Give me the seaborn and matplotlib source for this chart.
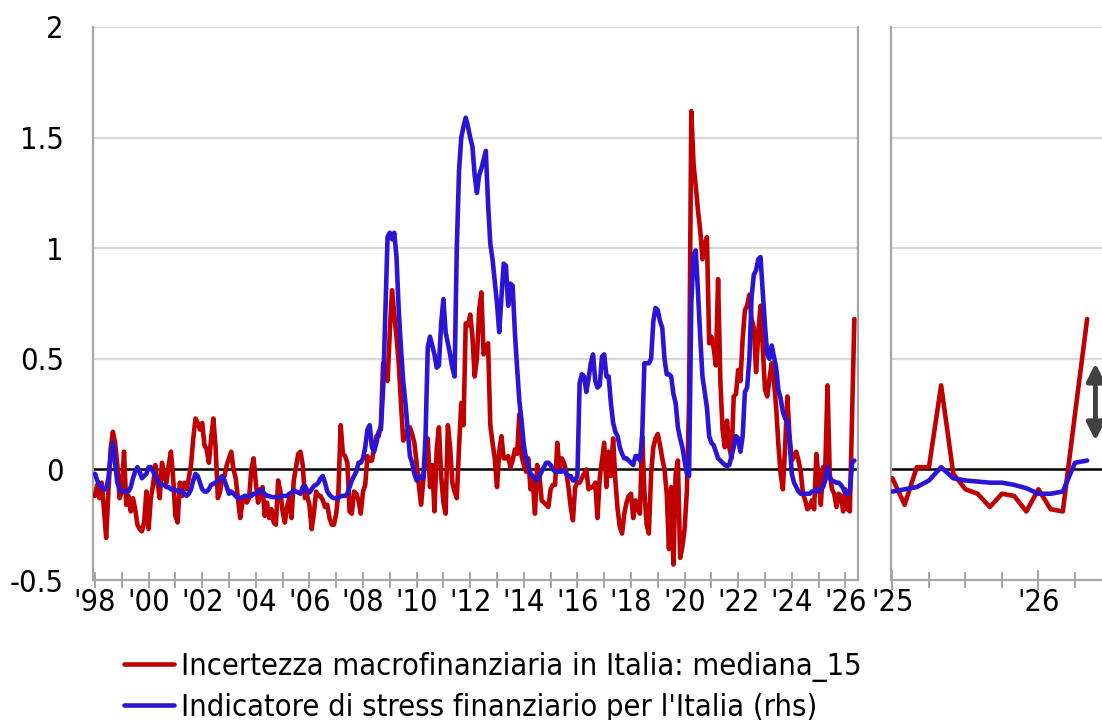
import numpy as np
import pandas as pd
import matplotlib
matplotlib.use("Agg")
import matplotlib.pyplot as plt
import seaborn as sns
from matplotlib.lines import Line2D
from matplotlib import font_manager

# ---------------- data (monthly, Jan 1998 - May 2026) ----------------
red = [
    -0.12, -0.07, -0.13, -0.06, -0.18, -0.31, -0.10, 0.09, 0.17, 0.12, 0.02, -0.13,   # 1998
    -0.10, 0.08, -0.16, -0.12, -0.19, -0.13, -0.18, -0.25, -0.27, -0.28, -0.24, -0.10,  # 1999
    -0.27, -0.13, -0.07, 0.02, -0.06, -0.13, 0.03, -0.03, -0.06, 0.02, 0.08, -0.04,     # 2000
    -0.21, -0.24, -0.06, -0.12, -0.06, -0.09, -0.04, 0.02, 0.14, 0.23, 0.21, 0.18,      # 2001
    0.21, 0.11, 0.09, 0.03, 0.14, 0.23, 0.10, -0.13, -0.10, -0.04, -0.03, 0.02,         # 2002
    0.05, 0.08, 0.00, -0.04, -0.13, -0.22, -0.15, -0.12, -0.15, -0.13, 0.00, 0.05,      # 2003
    -0.06, -0.15, -0.12, -0.08, -0.21, -0.15, -0.22, -0.18, -0.24, -0.25, -0.05, -0.10, # 2004
    -0.19, -0.24, -0.17, -0.13, -0.22, -0.05, 0.01, 0.07, 0.08, 0.02, -0.13, -0.12,     # 2005
    -0.16, -0.27, -0.20, -0.10, -0.12, -0.12, -0.14, -0.17, -0.16, -0.22, -0.25, -0.25, # 2006
    -0.20, -0.10, 0.20, 0.07, 0.06, 0.03, -0.19, -0.20, -0.10, -0.11, -0.14, -0.20,     # 2007
    -0.10, -0.07, 0.06, 0.04, 0.04, 0.10, 0.15, 0.15, 0.20, 0.48, 0.46, 0.40,           # 2008
    0.62, 0.81, 0.70, 0.60, 0.48, 0.30, 0.13, 0.15, 0.18, 0.19, 0.16, 0.12,             # 2009
    0.03, -0.07, -0.16, -0.05, 0.07, 0.14, -0.08, 0.02, -0.19, 0.09, 0.19, -0.03,       # 2010
    -0.15, -0.20, 0.20, 0.10, -0.06, -0.10, -0.13, 0.10, 0.30, 0.20, 0.66, 0.65,        # 2011
    0.70, 0.60, 0.42, 0.50, 0.72, 0.80, 0.52, 0.55, 0.57, 0.20, 0.12, 0.05,             # 2012
    -0.08, 0.08, 0.15, 0.05, 0.05, 0.06, 0.01, 0.04, 0.09, 0.07, 0.25, 0.06,            # 2013
    0.02, -0.01, 0.05, -0.09, -0.05, -0.20, 0.02, -0.03, -0.14, -0.15, -0.16, -0.17,    # 2014
    -0.09, -0.07, -0.07, 0.12, 0.00, 0.05, 0.03, -0.01, -0.08, -0.17, -0.23, -0.08,     # 2015
    -0.06, -0.06, -0.04, -0.02, 0.00, -0.09, -0.08, -0.08, -0.06, -0.22, -0.04, 0.04,   # 2016
    0.12, -0.08, 0.08, -0.03, 0.14, -0.05, -0.18, -0.26, -0.29, -0.20, -0.15, -0.12,    # 2017
    -0.11, -0.22, -0.14, -0.18, -0.20, 0.15, -0.10, -0.25, -0.29, -0.02, 0.10, 0.14,    # 2018
    0.16, 0.11, 0.05, 0.00, -0.11, -0.36, -0.08, -0.43, -0.02, 0.04, -0.40, -0.35,      # 2019
    -0.27, -0.10, 0.30, 1.62, 1.38, 1.28, 1.17, 1.08, 0.95, 1.02, 1.05, 0.57,           # 2020
    0.60, 0.55, 0.47, 0.86, 0.40, 0.18, 0.10, 0.22, 0.10, 0.05, 0.33, 0.34,             # 2021
    0.45, 0.40, 0.59, 0.72, 0.74, 0.79, 0.68, 0.64, 0.44, 0.62, 0.74, 0.55,             # 2022
    0.36, 0.33, 0.41, 0.48, 0.40, 0.28, 0.11, -0.02, -0.09, 0.10, 0.33, 0.15,           # 2023
    0.04, 0.06, 0.08, 0.04, -0.01, -0.11, -0.14, -0.18, -0.17, -0.14, -0.18, 0.07,      # 2024
    -0.04, -0.16, 0.01, 0.01, 0.38, -0.02, -0.09, -0.11, -0.17, -0.11, -0.12, -0.19,    # 2025
    -0.09, -0.18, -0.19, 0.25, 0.68,                                                    # 2026
]
blue = [
    -0.02, -0.05, -0.07, -0.08, -0.09, -0.09, -0.04, 0.06, 0.12, 0.03, -0.06, -0.09,    # 1998
    -0.10, -0.10, -0.10, -0.10, -0.08, -0.04, -0.01, 0.01, -0.01, -0.04, -0.03, -0.02,  # 1999
    0.01, 0.01, -0.01, -0.03, -0.05, -0.07, -0.07, -0.07, -0.08, -0.08, -0.09, -0.09,   # 2000
    -0.095, -0.095, -0.10, -0.10, -0.11, -0.12, -0.11, -0.09, -0.05, -0.02, -0.03, -0.06,  # 2001
    -0.09, -0.10, -0.10, -0.09, -0.07, -0.065, -0.06, -0.05, -0.04, -0.03, -0.05, -0.08,   # 2002
    -0.11, -0.10, -0.11, -0.12, -0.13, -0.13, -0.125, -0.12, -0.12, -0.12, -0.12, -0.11,   # 2003
    -0.11, -0.105, -0.09, -0.10, -0.11, -0.12, -0.12, -0.125, -0.125, -0.125, -0.125, -0.125,  # 2004
    -0.12, -0.12, -0.12, -0.11, -0.105, -0.095, -0.10, -0.105, -0.11, -0.08, -0.075, -0.095,   # 2005
    -0.105, -0.09, -0.075, -0.07, -0.06, -0.04, -0.03, -0.06, -0.10, -0.115, -0.125, -0.13,    # 2006
    -0.13, -0.13, -0.12, -0.12, -0.12, -0.11, -0.08, -0.05, -0.03, -0.01, 0.03, 0.03,          # 2007
    0.05, 0.10, 0.18, 0.20, 0.10, 0.08, 0.12, 0.17, 0.18, 0.36, 0.70, 1.05,            # 2008
    1.07, 1.04, 1.07, 0.96, 0.72, 0.55, 0.40, 0.30, 0.18, 0.06, 0.03, -0.02,           # 2009
    -0.05, -0.04, -0.03, -0.04, 0.15, 0.55, 0.60, 0.56, 0.52, 0.46, 0.47, 0.66,        # 2010
    0.77, 0.62, 0.57, 0.52, 0.46, 0.42, 1.00, 1.35, 1.50, 1.55, 1.59, 1.55,            # 2011
    1.50, 1.46, 1.33, 1.25, 1.33, 1.36, 1.40, 1.44, 1.20, 1.02, 0.95, 0.85,            # 2012
    0.75, 0.62, 0.78, 0.93, 0.92, 0.74, 0.84, 0.83, 0.62, 0.46, 0.31, 0.22,            # 2013
    0.11, 0.05, 0.02, -0.02, -0.03, -0.04, -0.05, -0.03, -0.01, 0.01, 0.03, 0.03,      # 2014
    0.02, 0.00, -0.01, -0.01, -0.01, -0.01, 0.00, -0.02, -0.03, -0.03, -0.05, -0.05,   # 2015
    -0.03, 0.39, 0.43, 0.42, 0.35, 0.41, 0.48, 0.52, 0.40, 0.37, 0.38, 0.51,           # 2016
    0.52, 0.42, 0.42, 0.30, 0.21, 0.17, 0.15, 0.10, 0.07, 0.05, 0.05, 0.04,            # 2017
    0.03, 0.02, 0.06, 0.06, 0.04, 0.15, 0.48, 0.48, 0.48, 0.50, 0.67, 0.73,            # 2018
    0.72, 0.67, 0.64, 0.50, 0.43, 0.43, 0.42, 0.34, 0.30, 0.19, 0.14, 0.10,            # 2019
    0.04, -0.02, -0.03, 0.75, 0.97, 0.99, 0.80, 0.60, 0.42, 0.35, 0.28, 0.15,          # 2020
    0.12, 0.11, 0.08, 0.05, 0.04, 0.03, 0.02, 0.015, 0.02, 0.06, 0.10, 0.15,           # 2021
    0.14, 0.08, 0.15, 0.35, 0.37, 0.50, 0.78, 0.88, 0.90, 0.95, 0.96, 0.80,            # 2022
    0.65, 0.52, 0.50, 0.56, 0.51, 0.46, 0.36, 0.32, 0.26, 0.23, 0.22, 0.13,            # 2023
    -0.02, -0.06, -0.08, -0.10, -0.11, -0.11, -0.11, -0.11, -0.11, -0.10, -0.10, -0.09,  # 2024
    -0.10, -0.09, -0.08, -0.05, 0.01, -0.04, -0.05, -0.055, -0.06, -0.06, -0.07, -0.085, # 2025
    -0.11, -0.11, -0.10, 0.03, 0.04,                                                   # 2026
]
start_year = 1998
zoom_start = 2025
zoom_months = 17
label_red = "Incertezza macrofinanziaria in Italia: mediana_15"
label_blue = "Indicatore di stress finanziario per l'Italia (rhs)"
y_ticks = [-0.5, 0, 0.5, 1, 1.5, 2]
y_tick_labels = ["-0.5", "0", "0.5", "1", "1.5", "2"]
left_years = list(range(1998, 2027))
left_year_labels = ["'%02d" % (y % 100) if y % 2 == 0 else "" for y in left_years]
right_years = [2025, 2026]
right_year_labels = ["'25", "'26"]
right_quarters = [2025.25, 2025.5, 2025.75, 2026.25]
arrow_low, arrow_high = 0.13, 0.48

RED_C = "#C00000"
BLUE_C = "#2A14D6"
GRID_C = "#d9d9d9"
SPINE_C = "#a6a6a6"

# ---------------- frames ----------------
n = len(red)
t = start_year + np.arange(n) / 12.0
df = pd.DataFrame({"t": np.concatenate([t, t]),
                   "v": red + blue,
                   "serie": [label_red] * n + [label_blue] * n})
tz = zoom_start + np.arange(zoom_months) / 12.0
dfz = pd.DataFrame({"t": np.concatenate([tz, tz]),
                    "v": red[-zoom_months:] + blue[-zoom_months:],
                    "serie": [label_red] * zoom_months + [label_blue] * zoom_months})

sns.set_theme(style="white")

# pick a narrow font if one is installed
chosen = None
for ent in font_manager.fontManager.ttflist:
    fn = ent.fname.lower()
    if "liberationsansnarrow-regular" in fn:
        chosen = ent
        break
if chosen is None:
    for ent in font_manager.fontManager.ttflist:
        fn = ent.fname.lower()
        if fn.endswith("dejavusanscondensed.ttf"):
            chosen = ent
            break
if chosen is not None:
    plt.rcParams["font.family"] = [chosen.name, "DejaVu Sans"]
    plt.rcParams["font.stretch"] = chosen.stretch
else:
    plt.rcParams["font.family"] = ["Liberation Sans", "DejaVu Sans"]

W, H = 1102, 720
fig = plt.figure(figsize=(W / 100, H / 100), dpi=100)

# size the text so the legend line is as wide as in the reference (~680 px)
renderer = fig.canvas.get_renderer()
probe = fig.text(0, 0, label_red, fontsize=24)
pw = probe.get_window_extent(renderer).width
probe.remove()
FS = min(26.0, 24.0 * 680.0 / pw)

ax1 = fig.add_axes([93 / W, (H - 580) / H, (858 - 93) / W, (580 - 27) / H])
ax2 = fig.add_axes([891 / W, (H - 580) / H, (W - 891) / W, (580 - 27) / H])
palette = {label_red: RED_C, label_blue: BLUE_C}

for ax, d in ((ax1, df), (ax2, dfz)):
    for g in (0.5, 1, 1.5, 2):
        ax.axhline(g, color=GRID_C, lw=1.6, zorder=0)
    ax.axhline(0, color="black", lw=1.8, zorder=1)
    sns.lineplot(data=d, x="t", y="v", hue="serie", palette=palette,
                 hue_order=[label_red, label_blue], linewidth=3.3,
                 errorbar=None, legend=False, ax=ax, zorder=3)
    ax.set_ylim(-0.5, 2)
    ax.set_xlabel("")
    ax.set_ylabel("")
    ax.set_yticks(y_ticks)
    for s in ("left", "bottom", "right", "top"):
        ax.spines[s].set_color(SPINE_C)
        ax.spines[s].set_linewidth(1.6)
    ax.spines["top"].set_visible(False)

# left panel
ax1.set_xlim(start_year - 2 / 26.8, start_year + (858 - 95) / 26.8)
ax1.set_xticks(left_years)
ax1.set_xticklabels(left_year_labels)
ax1.set_yticklabels(y_tick_labels)
ax1.tick_params(axis="x", direction="inout", length=11, width=1.4, color=SPINE_C,
                pad=0.5, labelsize=FS, labelcolor="black", bottom=True)
ax1.tick_params(axis="y", length=0, pad=21, labelsize=FS, labelcolor="black", left=True)

# right (zoom) panel
ax2.spines["right"].set_visible(False)
ax2.set_xlim(zoom_start - 0.01, 2026.435)
ax2.set_xticks(right_years)
ax2.set_xticklabels(right_year_labels)
ax2.set_xticks(right_quarters, minor=True)
ax2.set_yticklabels([])
ax2.tick_params(axis="x", which="major", direction="inout", length=14, width=1.4,
                color=SPINE_C, pad=-1, labelsize=FS, labelcolor="black", bottom=True)
ax2.tick_params(axis="x", which="minor", direction="inout", length=11, width=1.4,
                color=SPINE_C, bottom=True)
ax2.tick_params(axis="y", length=0)

ax2.annotate("", xy=(2026.39, arrow_high), xytext=(2026.39, arrow_low),
             arrowprops=dict(arrowstyle="<|-|>", color="#404040", lw=3.5,
                             mutation_scale=26, shrinkA=0, shrinkB=0),
             annotation_clip=False, zorder=5)

handles = [Line2D([0], [0], color=RED_C, lw=3.3), Line2D([0], [0], color=BLUE_C, lw=3.3)]
fig.legend(handles, [label_red, label_blue], loc="upper left",
           bbox_to_anchor=(124 / W, 1 - 652 / H), frameon=False, fontsize=FS,
           handlelength=1.65, handletextpad=0.2, labelspacing=0.35,
           borderpad=0, borderaxespad=0, labelcolor="black")

fig.savefig("out.png", dpi=100)
